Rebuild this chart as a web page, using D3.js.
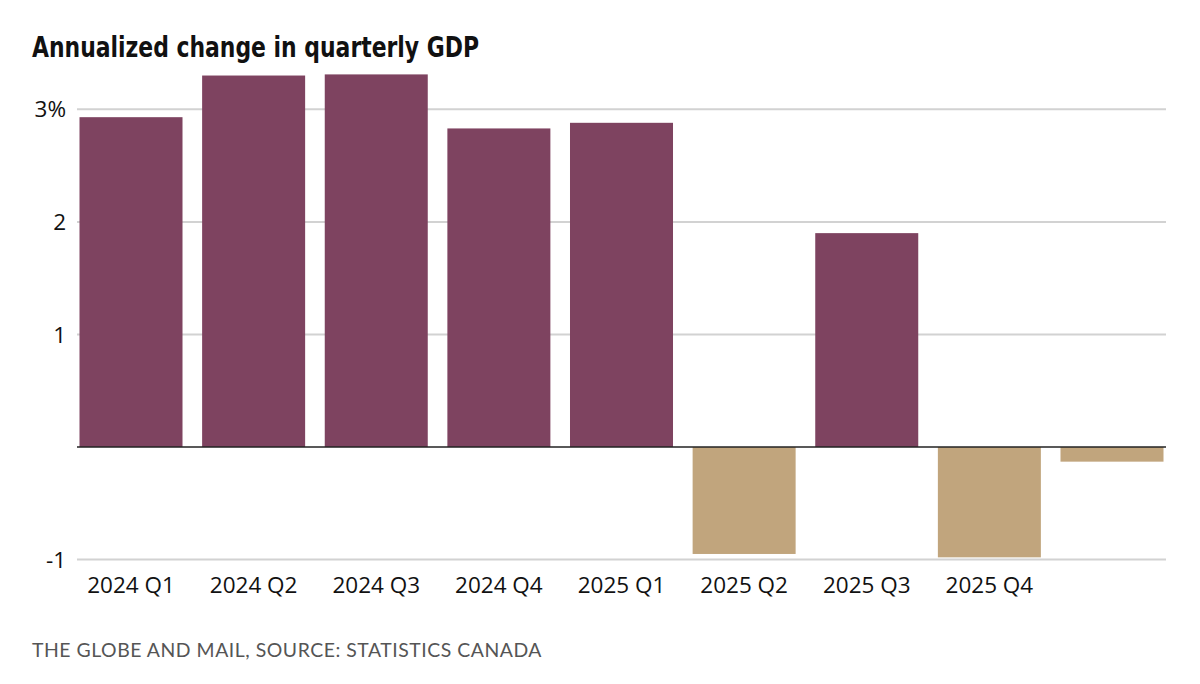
<!DOCTYPE html>
<html>
<head>
<meta charset="utf-8">
<script src="https://cdn.jsdelivr.net/npm/d3@7"></script>
<style>
  body { margin: 0; background: #fff; }
  .titleText { font-family: "Liberation Sans Narrow", "DejaVu Sans Condensed", Roboto, sans-serif; font-weight: 700; font-size: 28px; fill: #111; }
  .tickText { font-family: "Open Sans", sans-serif; font-size: 22.5px; fill: #111; }
  .sourceText { font-family: Lato, "Open Sans", sans-serif; font-size: 18.5px; fill: #555; letter-spacing: 0.5px; }
</style>
</head>
<body>
<div id="chart" style="width:1200px;height:684px;"></div>
<script>
// quarters and annualized GDP change (%)
var quarters = ["2024 Q1", "2024 Q2", "2024 Q3", "2024 Q4", "2025 Q1", "2025 Q2", "2025 Q3", "2025 Q4", ""];
var changes = [2.93, 3.30, 3.31, 2.83, 2.88, -0.95, 1.90, -0.98, -0.13];
var yTicks = [-1, 1, 2, 3];
var yTickLabels = ["-1", "1", "2", "3%"];

var chartTitle = "Annualized change in quarterly GDP";
var sourceLine = "THE GLOBE AND MAIL, SOURCE: STATISTICS CANADA";

function drawChart(eleID) {
	d3.select(eleID).selectAll("*").remove();

	const width = 1200;
	const height = 684;

	var svg = d3.select(eleID).append("svg")
		.attr("width", width)
		.attr("height", height);

	// Title
	svg.append("text")
		.attr("class", "titleText")
		.attr("x", 32)
		.attr("y", 57)
		.attr("textLength", 447)
		.attr("lengthAdjust", "spacingAndGlyphs")
		.text(chartTitle);

	var x = d3.scaleBand()
		.domain(d3.range(quarters.length))
		.range([79.5, 1163.5])
		.paddingInner(0.16)
		.paddingOuter(0);

	var y = d3.scaleLinear()
		.domain([-1, 3])
		.range([559.6, 109.3]);

	// gridlines
	svg.append("g")
		.selectAll("line")
		.data(yTicks)
		.join("line")
		.attr("x1", 77)
		.attr("x2", 1166)
		.attr("y1", d => y(d))
		.attr("y2", d => y(d))
		.attr("stroke", "#d2d2d2")
		.attr("stroke-width", 2);

	// y labels
	svg.append("g")
		.selectAll("text")
		.data(yTicks)
		.join("text")
		.attr("class", "tickText")
		.attr("x", 66)
		.attr("y", d => y(d))
		.attr("dy", "0.36em")
		.attr("text-anchor", "end")
		.text((d, i) => yTickLabels[i]);

	// bars
	svg.append("g")
		.selectAll("rect")
		.data(changes)
		.join("rect")
		.attr("x", (d, i) => x(i))
		.attr("width", x.bandwidth())
		.attr("y", d => y(Math.max(0, d)))
		.attr("height", d => Math.abs(y(d) - y(0)))
		.attr("fill", d => d >= 0 ? "#7e4360" : "#c1a57d");

	// zero line
	svg.append("line")
		.attr("x1", 77)
		.attr("x2", 1166)
		.attr("y1", y(0))
		.attr("y2", y(0))
		.attr("stroke", "#222")
		.attr("stroke-width", 1.5);

	// x labels
	svg.append("g")
		.selectAll("text")
		.data(quarters)
		.join("text")
		.attr("class", "tickText")
		.attr("x", (d, i) => x(i) + x.bandwidth() / 2)
		.attr("y", 593)
		.attr("text-anchor", "middle")
		.text(d => d);

	// source
	svg.append("text")
		.attr("class", "sourceText")
		.attr("x", 32)
		.attr("y", 657)
		.attr("textLength", 510)
		.attr("lengthAdjust", "spacingAndGlyphs")
		.text(sourceLine);
}

drawChart("#chart");
</script>
</body>
</html>
